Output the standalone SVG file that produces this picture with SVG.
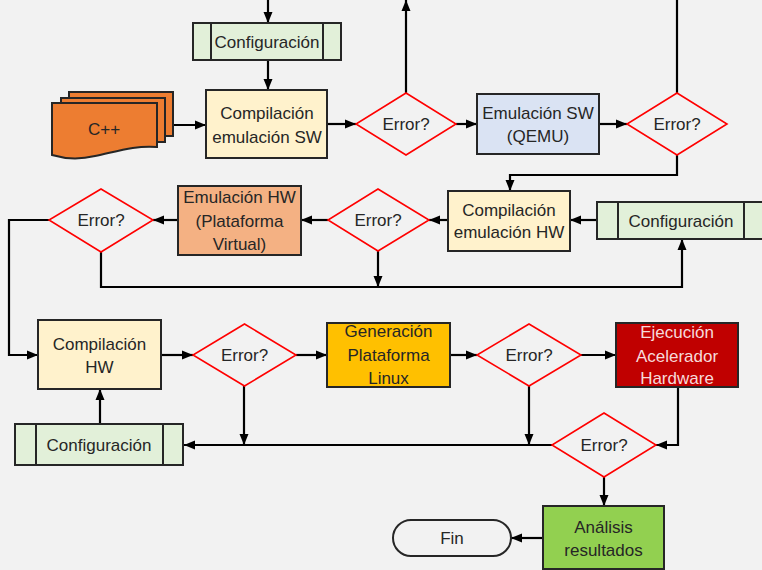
<svg xmlns="http://www.w3.org/2000/svg" width="762" height="570" viewBox="0 0 762 570">
<defs>
<marker id="ah" markerUnits="userSpaceOnUse" markerWidth="12" markerHeight="12" viewBox="0 0 12 12" refX="11" refY="6" orient="auto">
<path d="M0,1.5 L11,6 L0,10.5 Z" fill="#000"/>
</marker>
<style>
text{font-family:"Liberation Sans",Arial,sans-serif;font-size:17px;fill:#262626;text-anchor:middle}
.box{stroke:#262626;stroke-width:2}
.cfg{fill:#e2f0d9;stroke:#262626;stroke-width:2}
.cfgl{stroke:#262626;stroke-width:2}
.dia{fill:none;stroke:#ff0000;stroke-width:1.6}
.comp{fill:#fff2cc}
.c{fill:none;stroke:#000;stroke-width:2.2}
.a{marker-end:url(#ah)}
</style>
</defs>
<rect width="762" height="570" fill="#f2f2f2"/>

<g id="connectors">
<path class="c a" d="M268,0 V23"/>
<path class="c a" d="M268,60 V90"/>
<path class="c a" d="M173,125 H206"/>
<path class="c a" d="M327,124 H356"/>
<path class="c a" d="M406,93 V0"/>
<path class="c a" d="M456,124 H477"/>
<path class="c a" d="M599,124 H627"/>
<path class="c" d="M677,93 V0"/>
<path class="c a" d="M677,155 V175 H510 V191"/>
<path class="c a" d="M597,220 H570"/>
<path class="c a" d="M448,220 H429"/>
<path class="c a" d="M328,220 H301"/>
<path class="c a" d="M178,220 H153"/>
<path class="c a" d="M49,220 H9 V355 H38"/>
<path class="c a" d="M101,252 V287 H682 V239"/>
<path class="c a" d="M378,251 V287"/>
<path class="c a" d="M161,355 H193"/>
<path class="c a" d="M296,355 H327"/>
<path class="c a" d="M450,355 H477"/>
<path class="c a" d="M581,355 H616"/>
<path class="c a" d="M678,387 V445 H656"/>
<path class="c a" d="M552,445 H184"/>
<path class="c a" d="M529,386 V445"/>
<path class="c a" d="M244,386 V445"/>
<path class="c a" d="M100,424 V389"/>
<path class="c a" d="M604,477 V506"/>
<path class="c a" d="M543,538 H511"/>
</g>

<g id="config-top">
<rect class="cfg" x="193" y="23" width="148" height="37"/>
<line class="cfgl" x1="211" y1="23" x2="211" y2="60"/>
<line class="cfgl" x1="323" y1="23" x2="323" y2="60"/>
<text x="267" y="48">Configuración</text>
</g>

<g id="cpp">
<rect x="69" y="92" width="104" height="44" fill="#ed7d31" class="box"/>
<rect x="61" y="98" width="104" height="44" fill="#ed7d31" class="box"/>
<path d="M52,103 H157 V147 C135,145 115,152 95,156 C78,160 62,158 52,155 Z" fill="#ed7d31" class="box"/>
<text x="104" y="135">C++</text>
</g>

<g id="comp-sw">
<rect class="box comp" x="206" y="90" width="121" height="68"/>
<text x="267" y="119">Compilación</text>
<text x="267" y="142.5">emulación SW</text>
</g>

<g id="d1">
<polygon class="dia" points="406,93 456,124 406,155 356,124"/>
<text x="406" y="130">Error?</text>
</g>

<g id="emu-sw">
<rect class="box" fill="#dae3f3" x="477" y="94" width="122" height="60"/>
<text x="538" y="119">Emulación SW</text>
<text x="538" y="142">(QEMU)</text>
</g>

<g id="d2">
<polygon class="dia" points="677,93 727,124 677,155 627,124"/>
<text x="677" y="130">Error?</text>
</g>

<g id="comp-hw-emu">
<rect class="box comp" x="448" y="191" width="122" height="60"/>
<text x="509" y="215.5">Compilación</text>
<text x="509" y="238">emulación HW</text>
</g>

<g id="config-right">
<rect class="cfg" x="597" y="202" width="168" height="37"/>
<line class="cfgl" x1="618" y1="202" x2="618" y2="239"/>
<line class="cfgl" x1="744" y1="202" x2="744" y2="239"/>
<text x="681" y="227">Configuración</text>
</g>

<g id="d3">
<polygon class="dia" points="378,189 429,220 378,251 328,220"/>
<text x="378" y="226">Error?</text>
</g>

<g id="emu-hw">
<rect class="box" fill="#f4b183" x="178" y="186" width="123" height="69"/>
<text x="239.5" y="203">Emulación HW</text>
<text x="239.5" y="227">(Plataforma</text>
<text x="239.5" y="250">Virtual)</text>
</g>

<g id="d4">
<polygon class="dia" points="101,189 153,220 101,252 49,220"/>
<text x="101" y="226">Error?</text>
</g>

<g id="comp-hw">
<rect class="box comp" x="38" y="320" width="123" height="69"/>
<text x="99.5" y="350">Compilación</text>
<text x="99.5" y="373">HW</text>
</g>

<g id="d5">
<polygon class="dia" points="244.5,324 296,355 244.5,386 193,355"/>
<text x="244.5" y="361">Error?</text>
</g>

<g id="gen-linux">
<rect class="box" fill="#ffc000" x="327" y="323" width="123" height="64"/>
<text x="388.5" y="337">Generación</text>
<text x="388.5" y="361">Plataforma</text>
<text x="388.5" y="384">Linux</text>
</g>

<g id="d6">
<polygon class="dia" points="529,324 581,355 529,386 477,355"/>
<text x="529" y="361">Error?</text>
</g>

<g id="ejec">
<rect class="box" fill="#c00000" x="616" y="323" width="122" height="64"/>
<text x="677" y="338" style="fill:#f6dada">Ejecución</text>
<text x="677" y="361.5" style="fill:#f6dada">Acelerador</text>
<text x="677" y="384" style="fill:#f6dada">Hardware</text>
</g>

<g id="config-left">
<rect class="cfg" x="15" y="424" width="168" height="41"/>
<line class="cfgl" x1="36" y1="424" x2="36" y2="465"/>
<line class="cfgl" x1="163" y1="424" x2="163" y2="465"/>
<text x="99" y="451">Configuración</text>
</g>

<g id="d7">
<polygon class="dia" points="604,413 656,445 604,477 552,445"/>
<text x="604" y="451">Error?</text>
</g>

<g id="analisis">
<rect class="box" fill="#92d050" x="543" y="506" width="121" height="63"/>
<text x="603.5" y="533">Análisis</text>
<text x="603.5" y="555.5">resultados</text>
</g>

<g id="fin">
<rect class="box" fill="#f2f2f2" x="393" y="520" width="118" height="36" rx="18" ry="18"/>
<text x="452" y="544">Fin</text>
</g>
</svg>
